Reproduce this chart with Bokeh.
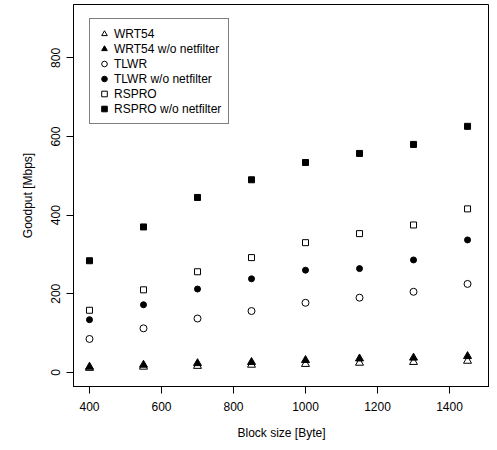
from bokeh.plotting import figure
from bokeh.models import Range1d, FixedTicker
from bokeh.embed import file_html
from bokeh.resources import INLINE

block_size = [400, 550, 700, 850, 1000, 1150, 1300, 1450]
wrt54 = [11, 14, 16, 19, 21, 24, 26, 29]
wrt54_nonf = [14, 19, 23, 26, 31, 35, 37, 41]
tlwr = [85, 112, 137, 156, 177, 190, 205, 225]
tlwr_nonf = [134, 172, 212, 238, 260, 264, 286, 337]
rspro = [158, 210, 256, 292, 330, 353, 375, 416]
rspro_nonf = [284, 370, 445, 490, 534, 557, 580, 626]

x_ticks = [400, 600, 800, 1000, 1200, 1400]
y_ticks = [0, 200, 400, 600, 800]

FONT = "Liberation Sans"

p = figure(width=489, height=442, output_backend="svg", toolbar_location=None,
           x_range=Range1d(355.6, 1511), y_range=Range1d(-36, 936),
           min_border_left=73, min_border_right=0, min_border_top=4, min_border_bottom=55)

p.background_fill_color = "white"
p.border_fill_color = "white"
p.outline_line_color = "black"
p.outline_line_width = 1
p.xgrid.visible = False
p.ygrid.visible = False

series = [
    (wrt54, "triangle", None, 8, "WRT54"),
    (wrt54_nonf, "triangle", "black", 8, "WRT54 w/o netfilter"),
    (tlwr, "circle", None, 7, "TLWR"),
    (tlwr_nonf, "circle", "black", 6, "TLWR w/o netfilter"),
    (rspro, "square", None, 6, "RSPRO"),
    (rspro_nonf, "square", "black", 6, "RSPRO w/o netfilter"),
]
for ys, marker, fill, size, label in series:
    p.scatter(block_size, ys, marker=marker, size=size, line_color="black",
              line_width=1, fill_color=fill, legend_label=label)

for ax in (p.xaxis[0], p.yaxis[0]):
    ax.axis_line_color = "black"
    ax.major_tick_line_color = "black"
    ax.major_tick_out = 7
    ax.major_tick_in = 0
    ax.minor_tick_line_color = None
    ax.major_label_text_font = FONT
    ax.major_label_text_font_size = "12px"
    ax.major_label_text_color = "black"
    ax.axis_label_text_font = FONT
    ax.axis_label_text_font_size = "12px"
    ax.axis_label_text_font_style = "normal"
    ax.axis_label_text_color = "black"

p.xaxis.ticker = FixedTicker(ticks=x_ticks)
p.yaxis.ticker = FixedTicker(ticks=y_ticks)
p.xaxis.axis_label = "Block size [Byte]"
p.yaxis.axis_label = "Goodput [Mbps]"
p.xaxis.major_label_standoff = 8
p.xaxis.axis_label_standoff = 12
p.yaxis.major_label_standoff = 6
p.yaxis.axis_label_standoff = 14
p.yaxis.major_label_orientation = "vertical"

lg = p.legend[0]
lg.location = (16, 262)
lg.border_line_color = "black"
lg.border_line_width = 1
lg.background_fill_color = "white"
lg.background_fill_alpha = 1
lg.label_text_font = FONT
lg.label_text_font_size = "12px"
lg.label_text_color = "black"
lg.glyph_width = 14
lg.glyph_height = 15
lg.label_height = 15
lg.spacing = 0
lg.padding = 7
lg.margin = 0
lg.label_standoff = 3

open("out.html", "w").write(file_html(p, INLINE))
